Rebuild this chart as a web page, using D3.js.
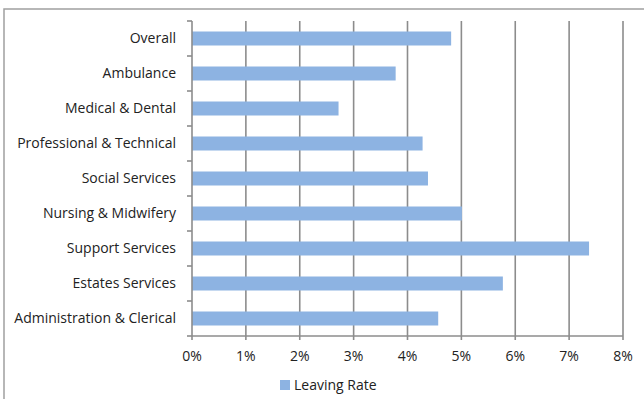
<!DOCTYPE html>
<html><head><meta charset="utf-8">
<script src="https://cdn.jsdelivr.net/npm/d3@7"></script>
<style>body{margin:0;background:#fff}svg{display:block}</style>
</head><body>
<script>
const categories = ["Overall","Ambulance","Medical & Dental","Professional & Technical","Social Services","Nursing & Midwifery","Support Services","Estates Services","Administration & Clerical"];
const leavingRate = [4.81,3.78,2.72,4.28,4.38,5.01,7.37,5.77,4.57];
const xTicks = [0,1,2,3,4,5,6,7,8];
const seriesName = "Leaving Rate";

(function(){
const W=644,H=399;
const svg=d3.select("body").append("svg").attr("width",W).attr("height",H);
const font="'Open Sans', sans-serif";
const grid="#8c8c8c";
const fs=14;

// outer chart frame
svg.append("rect").attr("x",4).attr("y",9).attr("width",W+10).attr("height",H+10)
  .attr("fill","none").attr("stroke","#a0a0a0").attr("stroke-width",1.5);

const pLeft=192,pRight=623,pTop=21,pBottom=336;
const x=d3.scaleLinear().domain([0,8]).range([pLeft,pRight]);
const y=d3.scaleBand().domain(categories).range([pTop,pBottom]).paddingInner(0.6).paddingOuter(0.3);
const yb=d3.scaleBand().domain(categories).range([pTop,pBottom]);

// gridlines
svg.append("g").selectAll("line").data(xTicks.slice(1)).join("line")
  .attr("x1",d=>x(d)).attr("x2",d=>x(d)).attr("y1",pTop).attr("y2",pBottom+4)
  .attr("stroke",grid).attr("stroke-width",1.6);

// bars
svg.append("g").selectAll("rect").data(categories).join("rect")
  .attr("x",x(0)).attr("y",d=>y(d)).attr("width",(d,i)=>x(leavingRate[i])-x(0))
  .attr("height",y.bandwidth()).attr("fill","#8db3e2");

// x axis
svg.append("line").attr("x1",pLeft).attr("x2",pRight).attr("y1",pBottom).attr("y2",pBottom)
  .attr("stroke",grid).attr("stroke-width",1.6);
svg.append("line").attr("x1",pLeft).attr("x2",pLeft).attr("y1",pBottom).attr("y2",pBottom+4)
  .attr("stroke",grid).attr("stroke-width",1.6);
svg.append("g").selectAll("text").data(xTicks).join("text")
  .attr("x",d=>x(d)).attr("y",pBottom+25).attr("text-anchor","middle")
  .attr("font-family",font).attr("font-size",fs).attr("fill","#222")
  .text(d=>d+"%");

// y axis
svg.append("line").attr("x1",pLeft).attr("x2",pLeft).attr("y1",pTop).attr("y2",pBottom)
  .attr("stroke",grid).attr("stroke-width",1.6);
const bounds=categories.map(c=>yb(c)).concat([pBottom]);
svg.append("g").selectAll("line").data(bounds).join("line")
  .attr("x1",pLeft-5).attr("x2",pLeft).attr("y1",d=>d).attr("y2",d=>d)
  .attr("stroke",grid).attr("stroke-width",1.6);
svg.append("g").selectAll("text").data(categories).join("text")
  .attr("x",176).attr("y",d=>yb(d)+yb.bandwidth()/2).attr("dy","0.35em")
  .attr("text-anchor","end").attr("font-family",font).attr("font-size",fs).attr("fill","#222")
  .text(d=>d);

// legend
svg.append("rect").attr("x",280).attr("y",380).attr("width",10).attr("height",10).attr("fill","#8db3e2");
svg.append("text").attr("x",294).attr("y",385).attr("dy","0.35em")
  .attr("font-family",font).attr("font-size",fs).attr("fill","#222").text(seriesName);
})();
</script>
</body></html>
